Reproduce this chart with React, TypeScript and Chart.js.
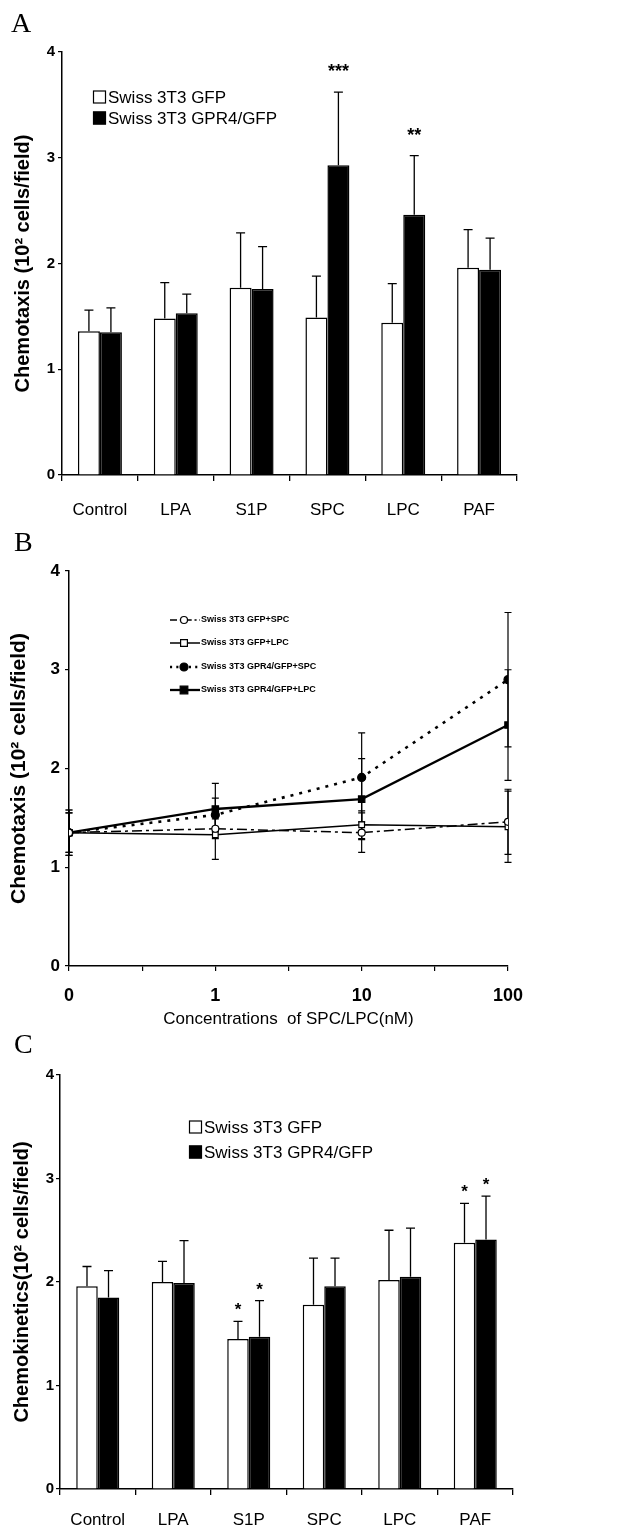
import React, { useEffect, useRef } from 'react';
import { Chart, registerables } from 'chart.js';

Chart.register(...registerables);

// ---------- data ----------
const categories = ['Control', 'LPA', 'S1P', 'SPC', 'LPC', 'PAF'];
const barSeriesNames = ['Swiss 3T3 GFP', 'Swiss 3T3 GPR4/GFP'];

// Panel A – chemotaxis
const chemotaxisGFP = [1.36, 1.48, 1.77, 1.49, 1.44, 1.96];
const chemotaxisGFPErr = [0.2, 0.34, 0.52, 0.39, 0.37, 0.36];
const chemotaxisGPR4 = [1.35, 1.53, 1.76, 2.93, 2.46, 1.94];
const chemotaxisGPR4Err = [0.23, 0.18, 0.4, 0.69, 0.56, 0.3];
const chemotaxisGFPStars = ['', '', '', '', '', ''];
const chemotaxisGPR4Stars = ['', '', '', '***', '**', ''];

// Panel B – dose response
const concentrationLabels = ['0', '1', '10', '100'];
const lineSeriesNames = [
  'Swiss 3T3 GFP+SPC',
  'Swiss 3T3 GFP+LPC',
  'Swiss 3T3 GPR4/GFP+SPC',
  'Swiss 3T3 GPR4/GFP+LPC',
];
const gfpSPC = [1.35, 1.39, 1.35, 1.46];
const gfpSPCErr = [0.2, 0.1, 0.2, 0.33];
const gfpLPC = [1.35, 1.33, 1.43, 1.41];
const gfpLPCErr = [0.2, 0.25, 0.14, 0.36];
const gpr4SPC = [1.35, 1.53, 1.91, 2.9];
const gpr4SPCErr = [0.23, 0.17, 0.45, 0.68];
const gpr4LPC = [1.35, 1.59, 1.69, 2.44];
const gpr4LPCErr = [0.23, 0.26, 0.41, 0.56];

// Panel C – chemokinetics
const chemokinesisGFP = [1.96, 2.0, 1.45, 1.78, 2.02, 2.38];
const chemokinesisGFPErr = [0.19, 0.2, 0.17, 0.45, 0.48, 0.38];
const chemokinesisGPR4 = [1.85, 1.99, 1.47, 1.96, 2.05, 2.41];
const chemokinesisGPR4Err = [0.26, 0.41, 0.35, 0.27, 0.47, 0.42];
const chemokinesisGFPStars = ['', '', '*', '', '', '*'];
const chemokinesisGPR4Stars = ['', '', '*', '', '', '*'];

const yTicks = [0, 1, 2, 3, 4];

// ---------- styling helpers ----------
const FONT = "'Liberation Sans', Arial, Helvetica, sans-serif";
const SERIF = "'Liberation Serif', 'Times New Roman', serif";

type BarPanelCfg = {
  canvasH: number;
  padTop: number;
  padRight: number;
  yWidth: number;
  xHeight: number;
  yTitle: string;
  yTitleSize: number;
  yTitlePad: number;
  yTickSize: number;
  yTickPad: number;
  xTickPad: number;
  catPct: number;
  white: number[];
  black: number[];
  whiteErr: number[];
  blackErr: number[];
  whiteStars: string[];
  blackStars: string[];
  starSize: number;
  starOffset: number;
  letter: string;
  letterX: number;
  letterY: number;
  legendX: number;
  legendYs: number[];
};

function makeBarChart(canvas: HTMLCanvasElement, c: BarPanelCfg) {
  const errs = [c.whiteErr, c.blackErr];
  const stars = [c.whiteStars, c.blackStars];
  const overlay = {
    id: 'barOverlay',
    afterDatasetsDraw(chart: any) {
      const ctx = chart.ctx;
      const ys = chart.scales.y;
      ctx.save();
      ctx.strokeStyle = '#000';
      ctx.fillStyle = '#000';
      ctx.lineWidth = 1.3;
      chart.data.datasets.forEach((ds: any, di: number) => {
        const meta = chart.getDatasetMeta(di);
        meta.data.forEach((el: any, i: number) => {
          const v = ds.data[i];
          const top = ys.getPixelForValue(v + errs[di][i]);
          ctx.beginPath();
          ctx.moveTo(el.x, el.y);
          ctx.lineTo(el.x, top);
          ctx.moveTo(el.x - 4.5, top);
          ctx.lineTo(el.x + 4.5, top);
          ctx.stroke();
          const s = stars[di][i];
          if (s) {
            ctx.font = `bold ${c.starSize}px ${FONT}`;
            ctx.textAlign = 'center';
            ctx.textBaseline = 'alphabetic';
            ctx.fillText(s, el.x, top - c.starOffset);
          }
        });
      });
      ctx.restore();
    },
    afterDraw(chart: any) {
      const ctx = chart.ctx;
      ctx.save();
      // panel letter
      ctx.fillStyle = '#000';
      ctx.font = `28px ${SERIF}`;
      ctx.textAlign = 'left';
      ctx.textBaseline = 'alphabetic';
      ctx.fillText(c.letter, c.letterX, c.letterY);
      // legend
      const fills = ['#fff', '#000'];
      c.legendYs.forEach((y, i) => {
        ctx.fillStyle = fills[i];
        ctx.fillRect(c.legendX, y - 6.5, 13, 13);
        ctx.strokeStyle = '#000';
        ctx.lineWidth = 1.2;
        ctx.strokeRect(c.legendX + 0.5, y - 6, 12, 12);
        ctx.fillStyle = '#000';
        ctx.font = `17px ${FONT}`;
        ctx.textBaseline = 'middle';
        ctx.fillText(barSeriesNames[i], c.legendX + 15, y + 1);
      });
      ctx.restore();
    },
  };

  return new Chart(canvas, {
    type: 'bar',
    data: {
      labels: categories,
      datasets: [
        {
          label: barSeriesNames[0],
          data: c.white,
          backgroundColor: '#fff',
          borderColor: '#000',
          borderWidth: 1.5,
          categoryPercentage: c.catPct,
          barPercentage: 1,
        },
        {
          label: barSeriesNames[1],
          data: c.black,
          backgroundColor: '#000',
          borderColor: '#000',
          borderWidth: 1.5,
          categoryPercentage: c.catPct,
          barPercentage: 1,
        },
      ],
    },
    options: {
      responsive: false,
      animation: false,
      layout: { padding: { top: c.padTop, right: c.padRight, bottom: 0, left: 0 } },
      plugins: { legend: { display: false }, tooltip: { enabled: false } },
      scales: {
        x: {
          offset: true,
          grid: {
            display: true,
            drawOnChartArea: false,
            drawTicks: true,
            tickLength: 6,
            offset: true,
            color: '#000',
            lineWidth: 1.3,
          },
          border: { display: true, color: '#000', width: 1.5 },
          ticks: { color: '#000', font: { family: FONT, size: 17 }, padding: c.xTickPad, maxRotation: 0 },
          afterFit: (s: any) => {
            s.height = c.xHeight;
          },
        },
        y: {
          min: 0,
          max: 4,
          afterBuildTicks: (s: any) => {
            s.ticks = yTicks.map((v) => ({ value: v }));
          },
          ticks: {
            color: '#000',
            font: { family: FONT, size: c.yTickSize, weight: 'bold' },
            padding: c.yTickPad,
          },
          grid: { drawOnChartArea: false, tickLength: 4, color: '#000', lineWidth: 1.2 },
          border: { display: true, color: '#000', width: 1.5 },
          title: {
            display: true,
            text: c.yTitle,
            color: '#000',
            font: { family: FONT, size: c.yTitleSize, weight: 'bold' },
            padding: { top: c.yTitlePad, bottom: 0 },
          },
          afterFit: (s: any) => {
            s.width = c.yWidth;
          },
        },
      },
    },
    plugins: [overlay],
  } as any);
}

type LineStyle = {
  dash: number[];
  width: number;
  point: string;
  radius: number;
  fill: string;
};
const lineStyles: LineStyle[] = [
  { dash: [10, 4, 3, 4], width: 1.5, point: 'circle', radius: 3.5, fill: '#fff' },
  { dash: [], width: 1.5, point: 'rect', radius: 4, fill: '#fff' },
  { dash: [3, 6], width: 2.6, point: 'circle', radius: 4, fill: '#000' },
  { dash: [], width: 2.3, point: 'rect', radius: 4.5, fill: '#000' },
];

function drawMarker(ctx: CanvasRenderingContext2D, st: LineStyle, x: number, y: number) {
  ctx.save();
  ctx.setLineDash([]);
  ctx.fillStyle = st.fill;
  ctx.strokeStyle = '#000';
  ctx.lineWidth = 1.2;
  ctx.beginPath();
  if (st.point === 'circle') {
    ctx.arc(x, y, st.radius, 0, Math.PI * 2);
  } else {
    const r = st.radius * 0.85;
    ctx.rect(x - r, y - r, 2 * r, 2 * r);
  }
  ctx.fill();
  ctx.stroke();
  ctx.restore();
}

function makeLineChart(canvas: HTMLCanvasElement) {
  const values = [gfpSPC, gfpLPC, gpr4SPC, gpr4LPC];
  const errs = [gfpSPCErr, gfpLPCErr, gpr4SPCErr, gpr4LPCErr];
  const overlay = {
    id: 'lineOverlay',
    beforeDatasetsDraw(chart: any) {
      const ctx = chart.ctx;
      const ys = chart.scales.y;
      ctx.save();
      ctx.strokeStyle = '#000';
      ctx.lineWidth = 1.2;
      values.forEach((vals, di) => {
        const meta = chart.getDatasetMeta(di);
        meta.data.forEach((el: any, i: number) => {
          const hi = ys.getPixelForValue(vals[i] + errs[di][i]);
          const lo = ys.getPixelForValue(vals[i] - errs[di][i]);
          ctx.beginPath();
          ctx.moveTo(el.x, hi);
          ctx.lineTo(el.x, lo);
          ctx.moveTo(el.x - 3.5, hi);
          ctx.lineTo(el.x + 3.5, hi);
          ctx.moveTo(el.x - 3.5, lo);
          ctx.lineTo(el.x + 3.5, lo);
          ctx.stroke();
        });
      });
      ctx.restore();
    },
    afterDraw(chart: any) {
      const ctx = chart.ctx;
      ctx.save();
      ctx.fillStyle = '#000';
      ctx.font = `28px ${SERIF}`;
      ctx.textAlign = 'left';
      ctx.textBaseline = 'alphabetic';
      ctx.fillText('B', 14, 21);
      const legendYs = [90, 113, 137, 160];
      legendYs.forEach((y, i) => {
        const st = lineStyles[i];
        ctx.strokeStyle = '#000';
        ctx.lineWidth = st.width;
        ctx.setLineDash(st.dash.length ? st.dash.map((d) => d * 0.7) : []);
        ctx.beginPath();
        ctx.moveTo(170, y);
        ctx.lineTo(200, y);
        ctx.stroke();
        drawMarker(ctx, st, 184, y);
        ctx.setLineDash([]);
        ctx.fillStyle = '#000';
        ctx.font = `bold 9px ${FONT}`;
        ctx.textBaseline = 'middle';
        ctx.textAlign = 'left';
        ctx.fillText(lineSeriesNames[i], 201, y);
      });
      ctx.restore();
    },
  };

  return new Chart(canvas, {
    type: 'line',
    data: {
      datasets: values.map((vals, di) => {
        const st = lineStyles[di];
        return {
          label: lineSeriesNames[di],
          data: vals.map((y, i) => ({ x: i, y })),
          borderColor: '#000',
          borderWidth: st.width,
          borderDash: st.dash,
          pointStyle: st.point,
          pointRadius: st.radius,
          pointBackgroundColor: st.fill,
          pointBorderColor: '#000',
          pointBorderWidth: 1.2,
          fill: false,
          tension: 0,
        };
      }),
    },
    options: {
      responsive: false,
      animation: false,
      layout: { padding: { top: 41, right: 113, bottom: 0, left: 0 } },
      plugins: { legend: { display: false }, tooltip: { enabled: false } },
      scales: {
        x: {
          type: 'linear',
          min: 0,
          max: 3,
          afterBuildTicks: (s: any) => {
            s.ticks = [0, 0.5, 1, 1.5, 2, 2.5, 3].map((v) => ({ value: v }));
          },
          ticks: {
            autoSkip: false,
            maxRotation: 0,
            color: '#000',
            font: { family: FONT, size: 18, weight: 'bold' },
            padding: 14,
            callback: (v: any) => (Number.isInteger(v) ? concentrationLabels[v] : ''),
          },
          grid: { drawOnChartArea: false, tickLength: 5, color: '#000', lineWidth: 1.2 },
          border: { display: true, color: '#000', width: 1.5 },
          title: {
            display: true,
            text: 'Concentrations  of SPC/LPC(nM)',
            color: '#000',
            font: { family: FONT, size: 17 },
            padding: { top: 0, bottom: 0 },
          },
          afterFit: (s: any) => {
            s.height = 64;
          },
        },
        y: {
          min: 0,
          max: 4,
          afterBuildTicks: (s: any) => {
            s.ticks = yTicks.map((v) => ({ value: v }));
          },
          ticks: { color: '#000', font: { family: FONT, size: 17, weight: 'bold' }, padding: 5 },
          grid: { drawOnChartArea: false, tickLength: 4, color: '#000', lineWidth: 1.2 },
          border: { display: true, color: '#000', width: 1.5 },
          title: {
            display: true,
            text: 'Chemotaxis (10² cells/field)',
            color: '#000',
            font: { family: FONT, size: 21, weight: 'bold' },
            padding: { top: 7, bottom: 0 },
          },
          afterFit: (s: any) => {
            s.width = 69;
          },
        },
      },
    },
    plugins: [overlay],
  } as any);
}

export default function App() {
  const refA = useRef<HTMLCanvasElement>(null);
  const refB = useRef<HTMLCanvasElement>(null);
  const refC = useRef<HTMLCanvasElement>(null);

  useEffect(() => {
    const charts: Chart[] = [];
    if (refA.current) {
      charts.push(
        makeBarChart(refA.current, {
          canvasH: 530,
          padTop: 52,
          padRight: 104,
          yWidth: 62,
          xHeight: 55,
          yTitle: 'Chemotaxis (10² cells/field)',
          yTitleSize: 20,
          yTitlePad: 11,
          yTickSize: 15,
          yTickPad: 3,
          xTickPad: 19,
          catPct: 0.58,
          white: chemotaxisGFP,
          black: chemotaxisGPR4,
          whiteErr: chemotaxisGFPErr,
          blackErr: chemotaxisGPR4Err,
          whiteStars: chemotaxisGFPStars,
          blackStars: chemotaxisGPR4Stars,
          starSize: 18,
          starOffset: 15,
          letter: 'A',
          letterX: 11,
          letterY: 32,
          legendX: 93,
          legendYs: [97, 118],
        })
      );
    }
    if (refB.current) charts.push(makeLineChart(refB.current));
    if (refC.current) {
      charts.push(
        makeBarChart(refC.current, {
          canvasH: 508,
          padTop: 45,
          padRight: 108,
          yWidth: 60,
          xHeight: 49,
          yTitle: 'Chemokinetics(10² cells/field)',
          yTitleSize: 20,
          yTitlePad: 10,
          yTickSize: 15,
          yTickPad: 2,
          xTickPad: 15,
          catPct: 0.57,
          white: chemokinesisGFP,
          black: chemokinesisGPR4,
          whiteErr: chemokinesisGFPErr,
          blackErr: chemokinesisGPR4Err,
          whiteStars: chemokinesisGFPStars,
          blackStars: chemokinesisGPR4Stars,
          starSize: 17,
          starOffset: 6,
          letter: 'C',
          letterX: 14,
          letterY: 23,
          legendX: 189,
          legendYs: [97, 122],
        })
      );
    }
    return () => charts.forEach((c) => c.destroy());
  }, []);

  return (
    <div style={{ position: 'absolute', left: 0, top: 0, width: 621, height: 1538, background: '#fff' }}>
      <canvas
        ref={refA}
        width={621}
        height={530}
        style={{ position: 'absolute', left: 0, top: 0, width: 621, height: 530 }}
      />
      <canvas
        ref={refB}
        width={621}
        height={500}
        style={{ position: 'absolute', left: 0, top: 530, width: 621, height: 500 }}
      />
      <canvas
        ref={refC}
        width={621}
        height={508}
        style={{ position: 'absolute', left: 0, top: 1030, width: 621, height: 508 }}
      />
    </div>
  );
}
